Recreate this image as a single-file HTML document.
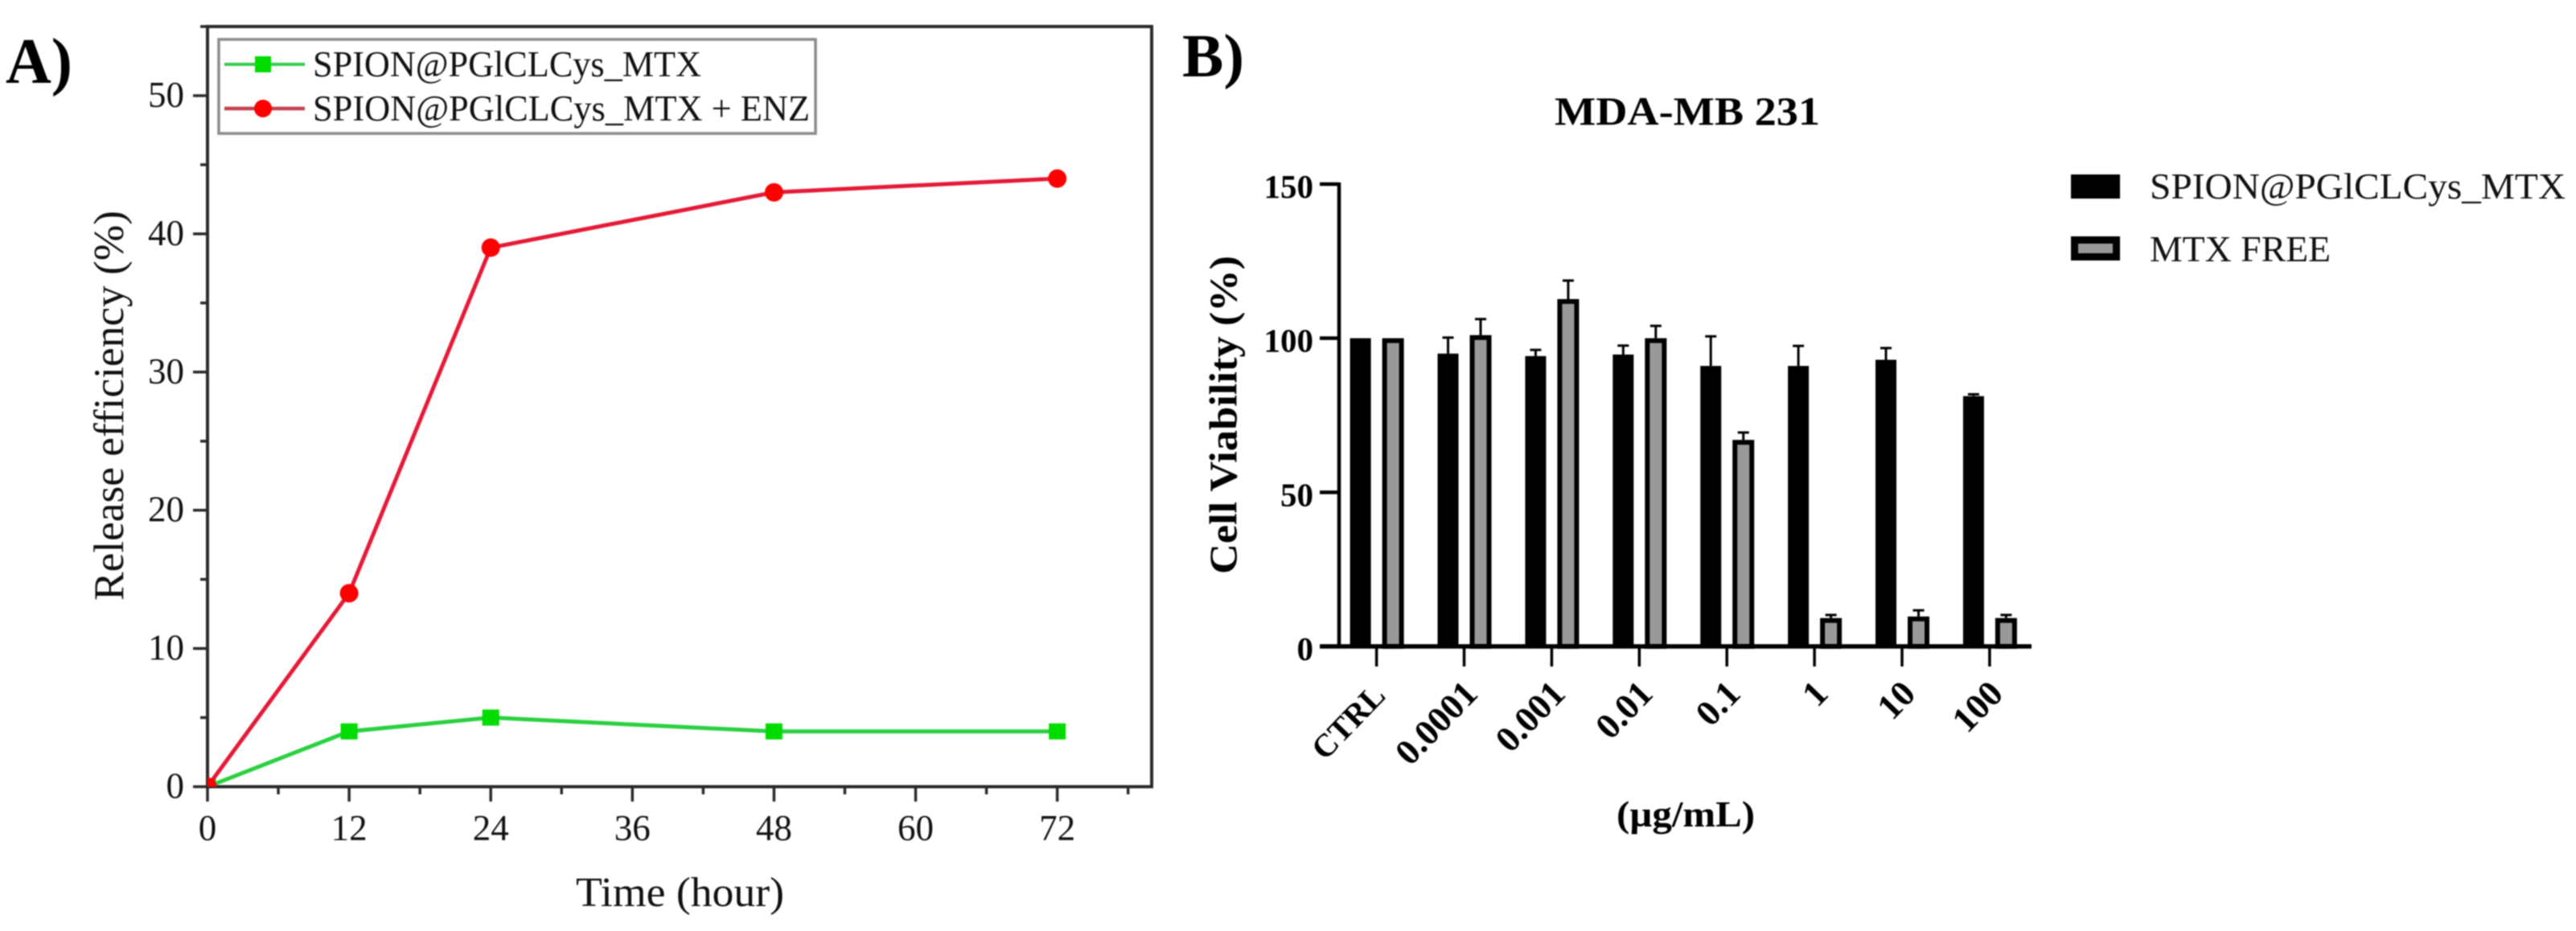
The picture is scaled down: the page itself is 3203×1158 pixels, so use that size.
<!DOCTYPE html>
<html lang="en">
<head>
<meta charset="utf-8">
<title>Release efficiency and cell viability charts</title>
<style>
  html, body { margin: 0; padding: 0; background: #fff; }
  body { width: 3203px; height: 1158px; overflow: hidden; }
  svg { display: block; filter: blur(0.7px); }
  text { font-family: "Liberation Serif", serif; fill: #111; }
  .bold { font-weight: bold; fill: #000; }
</style>
</head>
<body>
<svg id="figure" xmlns="http://www.w3.org/2000/svg" width="3203" height="1158" viewBox="0 0 3203 1158">
  <defs>
    <clipPath id="a-clip"><rect x="258" y="33" width="1174" height="945.5"/></clipPath>
  </defs>
  <rect x="0" y="0" width="3203" height="1158" fill="#fff"/>

  <text class="bold" x="7" y="103" font-size="80" textLength="83" lengthAdjust="spacingAndGlyphs">A)</text>
  <text class="bold" x="1470" y="95" font-size="76" textLength="77" lengthAdjust="spacingAndGlyphs">B)</text>

  <g id="panel-a">
    <rect x="258" y="33" width="1174" height="945.5" fill="none" stroke="#2b2b2b" stroke-width="4"/>
    <g id="a-ticks"></g>
    <g id="a-series" clip-path="url(#a-clip)"></g>
    <text transform="translate(153,747) rotate(-90)" font-size="53" textLength="485" lengthAdjust="spacingAndGlyphs">Release efficiency (%)</text>
    <text x="716" y="1127" font-size="52" textLength="259" lengthAdjust="spacingAndGlyphs">Time (hour)</text>
    <g>
      <rect x="272" y="49" width="742" height="117" fill="#fff" stroke="#8c8c8c" stroke-width="3.5"/>
      <line x1="279" y1="80" x2="379" y2="80" stroke="#35cc50" stroke-width="4"/>
      <rect x="317" y="70" width="20" height="20" fill="#00dc00"/>
      <text x="389" y="95" font-size="45" textLength="483" lengthAdjust="spacingAndGlyphs">SPION@PGlCLCys_MTX</text>
      <line x1="279" y1="135" x2="379" y2="135" stroke="#c2404f" stroke-width="4.5"/>
      <circle cx="327" cy="135" r="11" fill="#ff0000"/>
      <text x="389" y="150" font-size="45" textLength="618" lengthAdjust="spacingAndGlyphs">SPION@PGlCLCys_MTX + ENZ</text>
    </g>
  </g>

  <g id="panel-b">
    <text class="bold" x="1933" y="155" font-size="50" textLength="330" lengthAdjust="spacingAndGlyphs">MDA-MB 231</text>
    <g id="b-bars"></g>
    <line x1="1665" y1="227" x2="1665" y2="806" stroke="#000" stroke-width="4.5"/>
    <line x1="1641" y1="804" x2="2526" y2="804" stroke="#000" stroke-width="5.5"/>
    <g id="b-ticks"></g>
    <text class="bold" transform="translate(1537.5,714) rotate(-90)" font-size="49" textLength="396" lengthAdjust="spacingAndGlyphs">Cell Viability (%)</text>
    <text class="bold" x="2010" y="1028" font-size="46" textLength="172" lengthAdjust="spacingAndGlyphs">(µg/mL)</text>
    <g>
      <rect x="2575" y="217" width="61" height="30" fill="#000"/>
      <text x="2673" y="247" font-size="46" textLength="517" lengthAdjust="spacingAndGlyphs">SPION@PGlCLCys_MTX</text>
      <rect x="2579.5" y="298.5" width="52" height="21" fill="#999" stroke="#000" stroke-width="9"/>
      <text x="2673" y="325" font-size="46" textLength="225" lengthAdjust="spacingAndGlyphs">MTX FREE</text>
    </g>
  </g>
</svg>

<script>
// Panel A data
const releaseHours = [0, 12, 24, 48, 72];
const releaseSpion = [0, 4, 5, 4, 4];
const releaseSpionEnz = [0, 14, 39, 43, 44];
const releaseXMajor = [0, 12, 24, 36, 48, 60, 72];
const releaseXMinor = [6, 18, 30, 42, 54, 66, 78];
const releaseYMajor = [0, 10, 20, 30, 40, 50];
const releaseYMinor = [5, 15, 25, 35, 45, 55];

// Panel B data
const doseCategories = ['CTRL', '0.0001', '0.001', '0.01', '0.1', '1', '10', '100'];
const viabilitySpion = [100, 95, 94.2, 94.7, 91, 91, 93, 81.2];
const viabilitySpionError = [0, 5.2, 2, 2.9, 9.6, 6.5, 3.8, 0.6];
const viabilityFree = [100, 101, 112.7, 100, 67, 9.2, 9.7, 9.2];
const viabilityFreeError = [0, 5.2, 6, 4, 2.4, 1, 2, 1];
const viabilityTicks = [0, 50, 100, 150];

const SVG_NS = 'http://www.w3.org/2000/svg';
function make(tag, parent, attrs) {
  const el = document.createElementNS(SVG_NS, tag);
  for (const k in attrs) el.setAttribute(k, attrs[k]);
  parent.appendChild(el);
  return el;
}

// Panel A axis functions
const xA = h => 258 + h * (1174 / 80);
const yA = v => 978.5 - v * (945.5 / 55);

const aTicks = document.getElementById('a-ticks');
releaseXMajor.forEach(t => {
  const tick = make('line', aTicks, { x1: xA(t), x2: xA(t), y1: 978, y2: 997, stroke: '#2b2b2b', 'stroke-width': 3.5 });
  
  
  const label = make('text', aTicks, { x: xA(t), y: 1045, 'text-anchor': 'middle', 'font-size': 45 });
  label.textContent = t;
  
  
});
releaseXMinor.forEach(t => {
  const tick = make('line', aTicks, { x1: xA(t), x2: xA(t), y1: 978, y2: 988, stroke: '#2b2b2b', 'stroke-width': 3.5 });
  
  
});
releaseYMajor.forEach(t => {
  const tick = make('line', aTicks, { x1: 240, x2: 258, y1: yA(t), y2: yA(t), stroke: '#2b2b2b', 'stroke-width': 3.5 });
  
  
  const label = make('text', aTicks, { x: 229, y: yA(t) + 14, 'text-anchor': 'end', 'font-size': 45 });
  label.textContent = t;
  
  
});
releaseYMinor.forEach(t => {
  const tick = make('line', aTicks, { x1: 249, x2: 258, y1: yA(t), y2: yA(t), stroke: '#2b2b2b', 'stroke-width': 3.5 });
  
  
});

const aSeries = document.getElementById('a-series');
const linePoints = values => values.map((v, i) => xA(releaseHours[i]) + ',' + yA(v)).join(' ');

const greenLine = make('polyline', aSeries, { points: linePoints(releaseSpion), fill: 'none', stroke: '#2ad040', 'stroke-width': 5 });


releaseSpion.forEach((v, i) => {
  const m = make('rect', aSeries, { x: xA(releaseHours[i]) - 10.5, y: yA(v) - 10, width: 21, height: 20, fill: '#00dc00' });
  
  
});

const redLine = make('polyline', aSeries, { points: linePoints(releaseSpionEnz), fill: 'none', stroke: '#e41a36', 'stroke-width': 5 });


releaseSpionEnz.forEach((v, i) => {
  const m = make('circle', aSeries, { cx: xA(releaseHours[i]), cy: yA(v), r: 11.5, fill: '#ff0000' });
  
  
});

// Panel B axis functions
const xB = i => 1711.6 + i * 108.9;
const yB = v => 804 - v * (575 / 150);

const bTicks = document.getElementById('b-ticks');
viabilityTicks.forEach(t => {
  const tick = make('line', bTicks, { x1: 1641, x2: 1665, y1: yB(t), y2: yB(t), stroke: '#000', 'stroke-width': 4.5 });
  
  
  const label = make('text', bTicks, { x: 1633, y: yB(t) + 17, 'text-anchor': 'end', 'font-size': 41, class: 'bold' });
  label.textContent = t;
  
  
});
doseCategories.forEach((c, i) => {
  const tick = make('line', bTicks, { x1: xB(i), x2: xB(i), y1: 804, y2: 829, stroke: '#000', 'stroke-width': 3.5 });
  
  
  const isWord = isNaN(Number(c));
  const label = make('text', bTicks, { transform: 'translate(' + (xB(i) + (isWord ? 13 : 19)) + ',' + (isWord ? 867 : 865) + ') rotate(-46)', 'text-anchor': 'end', 'font-size': isWord ? 40 : 45, class: 'bold' });
  label.textContent = c;
  
  
});

const bBars = document.getElementById('b-bars');
function errorBar(parent, cx, top, err, name) {
  if (!err) return;
  const stem = make('line', parent, { x1: cx, x2: cx, y1: yB(top), y2: yB(top + err), stroke: '#000', 'stroke-width': 3 });
  
  
  const cap = make('line', parent, { x1: cx - 7, x2: cx + 7, y1: yB(top + err), y2: yB(top + err), stroke: '#000', 'stroke-width': 3 });
  
  
}
doseCategories.forEach((c, i) => {
  const cxBlack = xB(i) - 20;
  errorBar(bBars, cxBlack, viabilitySpion[i], viabilitySpionError[i], 'spion-' + c);
  const black = make('rect', bBars, { x: cxBlack - 13, y: yB(viabilitySpion[i]), width: 26, height: yB(0) - yB(viabilitySpion[i]), fill: '#000' });
  
  

  const cxGray = xB(i) + 20.5;
  errorBar(bBars, cxGray, viabilityFree[i], viabilityFreeError[i], 'mtx-free-' + c);
  const gray = make('rect', bBars, { x: cxGray - 10.5, y: yB(viabilityFree[i]) + 3, width: 21, height: yB(0) - yB(viabilityFree[i]) - 3, fill: '#999', stroke: '#000', 'stroke-width': 6 });
  
  
});
</script>
</body>
</html>
